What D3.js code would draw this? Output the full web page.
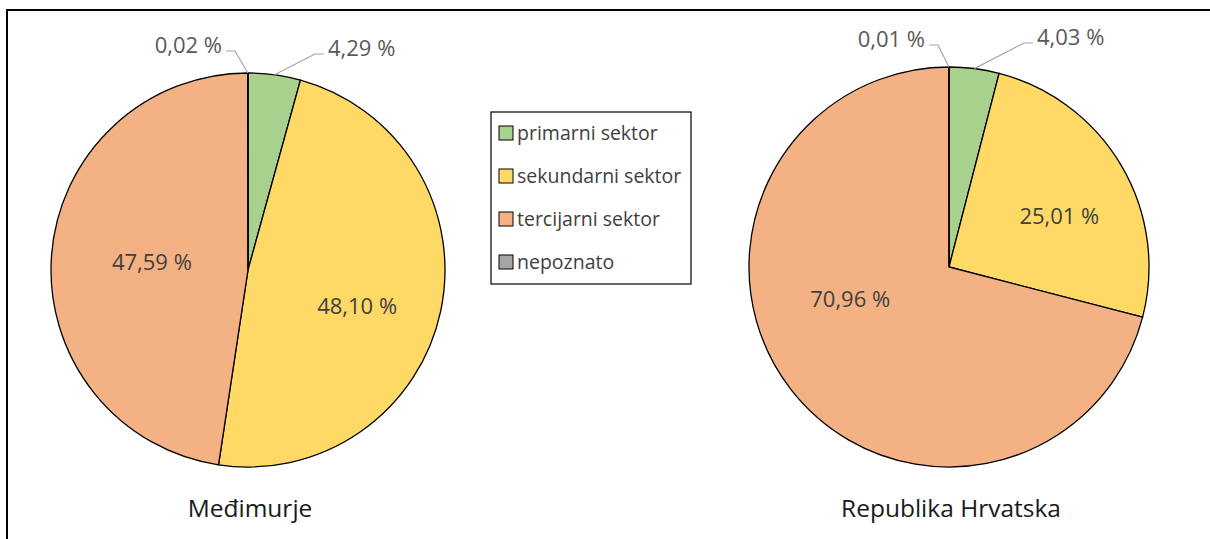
<!DOCTYPE html>
<html>
<head>
<meta charset="utf-8">
<script src="https://cdn.jsdelivr.net/npm/d3@7"></script>
<style>
  body { margin: 0; background: #fff; }
  text { font-family: "Open Sans", "Noto Sans", sans-serif; }
</style>
</head>
<body>
<svg id="chart"></svg>
<script>
// sectors and shares (%)
var categories = ['primarni sektor', 'sekundarni sektor', 'tercijarni sektor', 'nepoznato'];
var medimurje = [4.29, 48.10, 47.59, 0.02];
var hrvatska = [4.03, 25.01, 70.96, 0.01];
var pieTitles = ['Međimurje', 'Republika Hrvatska'];
var colors = ['#a9d18e', '#ffd966', '#f4b183', '#a5a5a5'];

var width = 1210, height = 539;

var svg = d3.select('#chart')
    .attr('width', width)
    .attr('height', height);

svg.append('rect').attr('width', width).attr('height', height).attr('fill', '#fff');

// frame (only top and left are visible)
svg.append('path')
    .attr('d', 'M7,' + height + 'V10H' + width)
    .attr('fill', 'none')
    .attr('stroke', '#000')
    .attr('stroke-width', 2);

var fmt = function(v) { return d3.format('.2f')(v).replace('.', ',') + ' %'; };

// layout of each pie: centre, radius, where the small slice labels go and nudges for inner labels
var pies = [
  { values: medimurje, title: pieTitles[0], cx: 248, cy: 270, r: 197,
    outside: { 0: { x: 80, y: -222, anchor: 'start' }, 3: { x: -26, y: -225, anchor: 'end' } },
    nudge: { 1: [7, 15], 2: [8, 0] } },
  { values: hrvatska, title: pieTitles[1], cx: 949, cy: 267, r: 200,
    outside: { 0: { x: 88, y: -230, anchor: 'start' }, 3: { x: -24, y: -228, anchor: 'end' } },
    nudge: { 1: [19, 3], 2: [-15, -33] } }
];

var pie = d3.pie().sort(null).value(function(d) { return d; });

pies.forEach(function(p) {
  var g = svg.append('g').attr('transform', 'translate(' + p.cx + ',' + p.cy + ')');
  var arc = d3.arc().innerRadius(0).outerRadius(p.r);
  var labelArc = d3.arc().innerRadius(p.r * 0.53).outerRadius(p.r * 0.53);
  var arcs = pie(p.values);

  g.selectAll('path.slice')
      .data(arcs)
      .enter().append('path')
      .attr('class', 'slice')
      .attr('d', arc)
      .attr('fill', function(d, i) { return colors[i]; })
      .attr('stroke', '#000')
      .attr('stroke-width', 1.3);

  arcs.forEach(function(d, i) {
    var o = p.outside[i];
    if (o) {
      var a = (d.startAngle + d.endAngle) / 2;
      var px = Math.sin(a) * p.r, py = -Math.cos(a) * p.r;
      var ly = o.y + 6;
      var dir = o.anchor === 'start' ? -1 : 1;
      g.append('path')
          .attr('d', 'M' + px + ',' + py + 'L' + (o.x + dir * 13) + ',' + ly + 'H' + (o.x + dir * 4))
          .attr('fill', 'none')
          .attr('stroke', '#a6a6a6')
          .attr('stroke-width', 1.2);
      g.append('text')
          .attr('x', o.x)
          .attr('y', o.y)
          .attr('dy', '0.35em')
          .attr('text-anchor', o.anchor)
          .style('font-size', '22px')
          .style('fill', '#595959')
          .text(fmt(d.data));
    } else {
      var c = labelArc.centroid(d);
      var n = p.nudge[i] || [0, 0];
      g.append('text')
          .attr('x', c[0] + n[0])
          .attr('y', c[1] + n[1])
          .attr('dy', '0.35em')
          .attr('text-anchor', 'middle')
          .style('font-size', '22px')
          .style('fill', '#404040')
          .text(fmt(d.data));
    }
  });

  // title under the pie
  svg.append('text')
      .attr('x', p.cx + 2)
      .attr('y', 508)
      .attr('dy', '0.35em')
      .attr('text-anchor', 'middle')
      .style('font-size', '24.5px')
      .style('fill', '#1a1a1a')
      .text(p.title);
});

// legend
var legend = svg.append('g').attr('transform', 'translate(491,112)');
legend.append('rect')
    .attr('width', 200)
    .attr('height', 172)
    .attr('fill', '#fff')
    .attr('stroke', '#000')
    .attr('stroke-width', 1.2);

var item = legend.selectAll('g.item')
    .data(categories)
    .enter().append('g')
    .attr('class', 'item')
    .attr('transform', function(d, i) { return 'translate(8,' + (21 + i * 43) + ')'; });

item.append('rect')
    .attr('x', 0)
    .attr('y', -7)
    .attr('width', 14)
    .attr('height', 14)
    .attr('fill', function(d, i) { return colors[i]; })
    .attr('stroke', '#000')
    .attr('stroke-width', 1);

item.append('text')
    .attr('x', 18)
    .attr('y', 0)
    .attr('dy', '0.35em')
    .style('font-size', '19.5px')
    .style('fill', '#404040')
    .text(function(d) { return d; });
</script>
</body>
</html>
